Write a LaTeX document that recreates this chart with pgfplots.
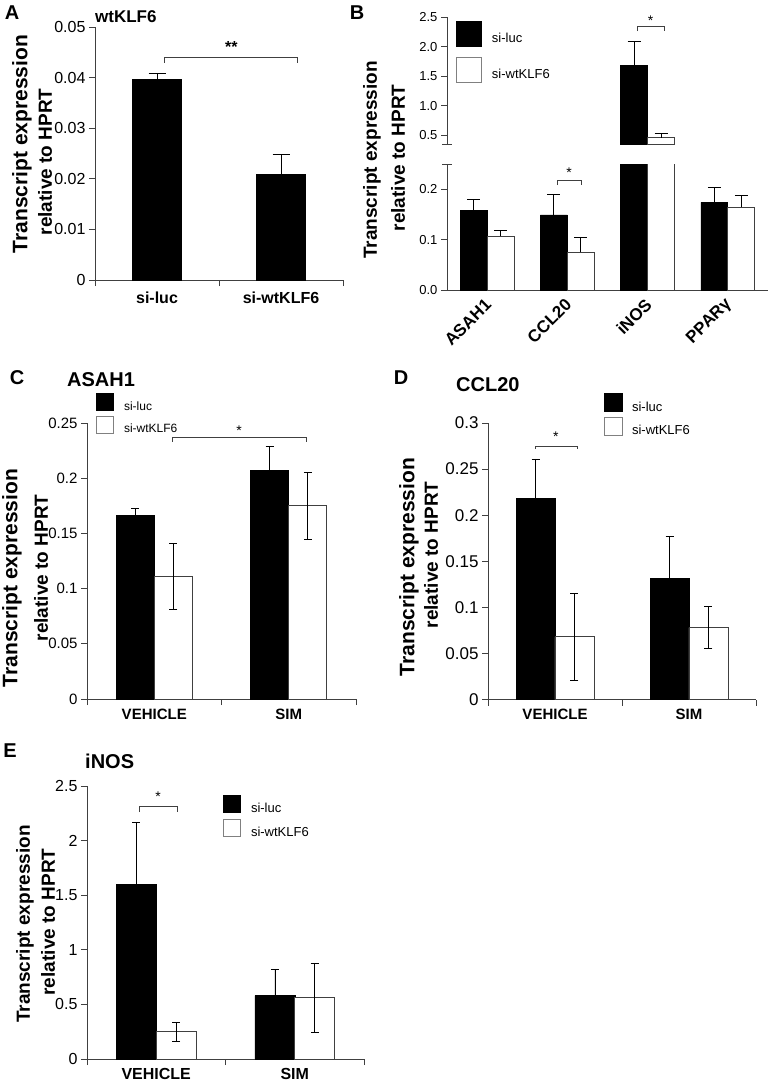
\documentclass[border=0pt]{standalone}
\usepackage{fontspec}
\setmainfont{Liberation Sans}
\usepackage{pgfplots}
\pgfplotsset{compat=1.18}
\newcommand{\fs}[1]{\fontsize{#1}{#1}\selectfont}
\definecolor{axc}{gray}{0.25}
\pgfplotsset{
  panel/.style={
    scale only axis,
    anchor=south west,
    axis x line*=bottom, axis y line*=left,
    axis line style={line width=0.9pt, draw=axc, -},
    tick style={line width=0.9pt, draw=axc},
    tick align=outside,
    major tick length=6pt,
    xmin=0.5, xmax=2.5,
    xtick={0.5,1.5,2.5}, xticklabels={},
    ymin=0,
    scaled y ticks=false,
    /pgf/number format/assume math mode=true,
    /pgf/number format/fixed,
    /pgf/number format/precision=2,
    clip mode=individual,
    legend cell align=left,
  },
  blk/.style={ybar, bar shift=0pt, fill=black, draw=black, line width=0.8pt},
  wht/.style={ybar, bar shift=0pt, fill=white, draw=axc, line width=0.8pt},
  eb/.style 2 args={error bars/y dir=#1, error bars/y explicit,
     error bars/error bar style={line width=0.8pt, black},
     error bars/error mark=-,
     error bars/error mark options={rotate=90, line width=0.8pt, black, mark size=#2}},
  cats/.style={extra x ticks={1,2}, extra x tick labels={#1},
     extra x tick style={tick style={draw=none}, xticklabel style={font=\bfseries\fs{15}}}},
}
\begin{document}
\begin{tikzpicture}
\path[use as bounding box] (0,0) rectangle (772pt,-1088pt);

% ---------------- Panel A
\begin{axis}[panel, at={(95pt,-280pt)}, width=248pt, height=253pt,
  ymax=0.05, ytick={0,0.01,0.02,0.03,0.04,0.05},
  yticklabel style={font=\fs{16}},
  extra x ticks={1,2}, extra x tick labels={si-luc,si-wtKLF6},
  extra x tick style={tick style={draw=none}, xticklabel style={font=\bfseries\fs{16}, yshift=-2pt}}]
\addplot[blk, bar width=0.395, eb={plus}{8.5pt}] coordinates {(1,0.0396) +- (0,0.0012) (2,0.0209) +- (0,0.0040)};
\draw[line width=0.8pt, axc] (axis cs:1.056,0.04289) |- (axis cs:2.129,0.04407) -- (axis cs:2.129,0.04289);
\node[font=\bfseries\fs{16}, inner sep=0pt] at (axis cs:1.6,0.0461) {**};
\end{axis}

% ---------------- Panel B (broken axis)
\begin{axis}[panel, at={(447pt,-290pt)}, width=321pt, height=126pt,
  xmin=0.5, xmax=4.5, xtick={1,2,3,4}, xticklabels={ASAH1,CCL20,iNOS,PPARγ},
  xtick style={draw=none},
  xticklabel style={font=\bfseries\fs{17}, rotate=45, anchor=east, yshift=-5pt},
  ymax=0.25, ytick={0,0.1,0.2}, yticklabel style={font=\fs{13}},
  /pgf/number format/fixed zerofill, /pgf/number format/precision=1]
\addplot[blk, bar width=0.336, eb={plus}{6.5pt}] coordinates {(0.832,0.158) +- (0,0.022) (1.832,0.149) +- (0,0.040) (2.832,1.69) +- (0,0.39) (3.832,0.174) +- (0,0.030)};
\addplot[wht, bar width=0.336, eb={plus}{6.5pt}] coordinates {(1.168,0.107) +- (0,0.012) (2.168,0.075) +- (0,0.029) (3.168,0.46) +- (0,0.077) (4.168,0.164) +- (0,0.023)};
\draw[line width=0.8pt, axc] (axis cs:1.872,0.208) |- (axis cs:2.171,0.218) -- (axis cs:2.171,0.208);
\node[font=\fs{14}, inner sep=0pt] at (axis cs:2.02,0.232) {*};
\draw[line width=0.9pt, axc] ([xshift=-5pt]rel axis cs:0,1) -- ([xshift=5pt]rel axis cs:0,1);
\end{axis}

\begin{axis}[panel, at={(447pt,-144pt)}, width=321pt, height=127pt,
  axis x line=none, xmin=0.5, xmax=4.5,
  ymin=0.356, ymax=2.5, ytick={0.5,1,1.5,2,2.5}, yticklabel style={font=\fs{13}},
  /pgf/number format/fixed zerofill, /pgf/number format/precision=1,
  legend image code/.code={\draw[#1, line width=0.8pt] (0pt,-8pt) rectangle (25pt,17pt);},
  legend style={draw=none, fill=none, inner sep=0pt, at={(0.028,0.969)}, anchor=north west,
    font=\fs{13}, row sep=10pt, /tikz/every odd column/.append style={column sep=8pt}}]
% only the iNOS bars reach the upper segment of the broken axis
\addplot[blk, bar width=0.336, forget plot, eb={plus}{6.5pt}] coordinates {(2.832,1.69) +- (0,0.39)};
\addplot[wht, bar width=0.336, forget plot, eb={plus}{6.5pt}] coordinates {(3.168,0.46) +- (0,0.077)};
\addlegendimage{fill=black, draw=black}
\addlegendentry{si-luc}
\addlegendimage{fill=white, draw=gray}
\addlegendentry{si-wtKLF6}
\draw[line width=0.8pt, axc] (axis cs:2.868,2.26) |- (axis cs:3.204,2.336) -- (axis cs:3.204,2.26);
\node[font=\fs{14}, inner sep=0pt] at (axis cs:3.036,2.43) {*};
\draw[line width=0.9pt, axc] ([xshift=-5pt]rel axis cs:0,0) -- ([xshift=5pt]rel axis cs:0,0);
\end{axis}

% ---------------- Panel C
\begin{axis}[panel, at={(87pt,-699pt)}, width=269pt, height=276pt,
  ymax=0.25, ytick={0,0.05,0.1,0.15,0.2,0.25}, yticklabel style={font=\fs{15}},
  cats={VEHICLE,SIM},
  legend image code/.code={\draw[#1, line width=0.8pt] (0pt,-4pt) rectangle (17pt,13pt);},
  legend style={draw=none, fill=none, inner sep=0pt, at={(0.0335,1.109)}, anchor=north west,
    font=\fs{12}, row sep=2pt, /tikz/every odd column/.append style={column sep=8pt}}]
\addplot[blk, bar width=0.283, forget plot, eb={plus}{4pt}] coordinates {(0.8585,0.166) +- (0,0.007) (1.8585,0.207) +- (0,0.022)};
\addplot[wht, bar width=0.283, forget plot, eb={both}{4pt}] coordinates {(1.1415,0.111) +- (0,0.030) (2.1415,0.175) +- (0,0.030)};
\addlegendimage{fill=black, draw=black}
\addlegendentry{si-luc}
\addlegendimage{fill=white, draw=gray}
\addlegendentry{si-wtKLF6}
\draw[line width=0.8pt, axc] (axis cs:1.132,0.233) |- (axis cs:2.128,0.237) -- (axis cs:2.128,0.233);
\node[font=\fs{14}, inner sep=0pt] at (axis cs:1.63,0.2427) {*};
\end{axis}

% ---------------- Panel D
\begin{axis}[panel, at={(488pt,-699.5pt)}, width=268pt, height=276.5pt,
  ymax=0.3, ytick={0,0.05,0.1,0.15,0.2,0.25,0.3}, yticklabel style={font=\fs{17}},
  cats={VEHICLE,SIM},
  legend image code/.code={\draw[#1, line width=0.8pt] (0pt,-4.5pt) rectangle (18pt,13.5pt);},
  legend style={draw=none, fill=none, inner sep=0pt, at={(0.433,1.1085)}, anchor=north west,
    font=\fs{13}, row sep=2pt, /tikz/every odd column/.append style={column sep=7pt}}]
\addplot[blk, bar width=0.291, forget plot, eb={plus}{4pt}] coordinates {(0.855,0.218) +- (0,0.043) (1.855,0.131) +- (0,0.046)};
\addplot[wht, bar width=0.291, forget plot, eb={both}{4pt}] coordinates {(1.145,0.068) +- (0,0.047) (2.145,0.078) +- (0,0.023)};
\addlegendimage{fill=black, draw=black}
\addlegendentry{si-luc}
\addlegendimage{fill=white, draw=gray}
\addlegendentry{si-wtKLF6}
\draw[line width=0.8pt, axc] (axis cs:0.851,0.272) |- (axis cs:1.164,0.275) -- (axis cs:1.164,0.272);
\node[font=\fs{14}, inner sep=0pt] at (axis cs:1.007,0.2848) {*};
\end{axis}

% ---------------- Panel E
\begin{axis}[panel, at={(87pt,-1059pt)}, width=277pt, height=273pt,
  ymax=2.5, ytick={0,0.5,1,1.5,2,2.5}, yticklabel style={font=\fs{16}},
  cats={VEHICLE,SIM},
  extra x tick style={tick style={draw=none}, xticklabel style={font=\bfseries\fs{16}}},
  legend image code/.code={\draw[#1, line width=0.8pt] (0pt,-4pt) rectangle (17pt,13pt);},
  legend style={draw=none, fill=none, inner sep=0pt, at={(0.491,0.967)}, anchor=north west,
    font=\fs{13}, row sep=3pt, /tikz/every odd column/.append style={column sep=8pt}}]
\addplot[blk, bar width=0.289, forget plot, eb={plus}{4pt}] coordinates {(0.857,1.60) +- (0,0.57) (1.857,0.58) +- (0,0.24)};
\addplot[wht, bar width=0.289, forget plot, eb={both}{4pt}] coordinates {(1.143,0.25) +- (0,0.085) (2.143,0.56) +- (0,0.32)};
\addlegendimage{fill=black, draw=black}
\addlegendentry{si-luc}
\addlegendimage{fill=white, draw=gray}
\addlegendentry{si-wtKLF6}
\draw[line width=0.8pt, axc] (axis cs:0.875,2.26) |- (axis cs:1.15,2.31) -- (axis cs:1.15,2.26);
\node[font=\fs{14}, inner sep=0pt] at (axis cs:1.013,2.40) {*};
\end{axis}

% ---------------- texts
\begin{scope}[every node/.style={inner sep=0pt}]
\node[font=\bfseries\fs{20}] at (12pt,-13pt) {A};
\node[font=\bfseries\fs{20}] at (357pt,-13pt) {B};
\node[font=\bfseries\fs{20}] at (17pt,-378pt) {C};
\node[font=\bfseries\fs{20}] at (401pt,-378pt) {D};
\node[font=\bfseries\fs{20}] at (10pt,-751pt) {E};
\node[font=\bfseries\fs{17}, anchor=west] at (95pt,-17pt) {wtKLF6};
\node[font=\bfseries\fs{20}, anchor=west] at (67pt,-380pt) {ASAH1};
\node[font=\bfseries\fs{20}, anchor=west] at (456pt,-385pt) {CCL20};
\node[font=\bfseries\fs{20}, anchor=west] at (85pt,-761pt) {iNOS};
\node[font=\bfseries\fs{21}, rotate=90] at (22pt,-144pt) {Transcript expression};
\node[font=\bfseries\fs{19}, rotate=90] at (45pt,-162pt) {relative to HPRT};
\node[font=\bfseries\fs{19}, rotate=90] at (372pt,-160pt) {Transcript expression};
\node[font=\bfseries\fs{19}, rotate=90] at (398pt,-158pt) {relative to HPRT};
\node[font=\bfseries\fs{21}, rotate=90] at (12pt,-578pt) {Transcript expression};
\node[font=\bfseries\fs{19}, rotate=90] at (41pt,-568pt) {relative to HPRT};
\node[font=\bfseries\fs{21}, rotate=90] at (409pt,-567pt) {Transcript expression};
\node[font=\bfseries\fs{19}, rotate=90] at (431pt,-555pt) {relative to HPRT};
\node[font=\bfseries\fs{19}, rotate=90] at (25pt,-924pt) {Transcript expression};
\node[font=\bfseries\fs{19}, rotate=90] at (48pt,-922pt) {relative to HPRT};
\end{scope}
\end{tikzpicture}
\end{document}
